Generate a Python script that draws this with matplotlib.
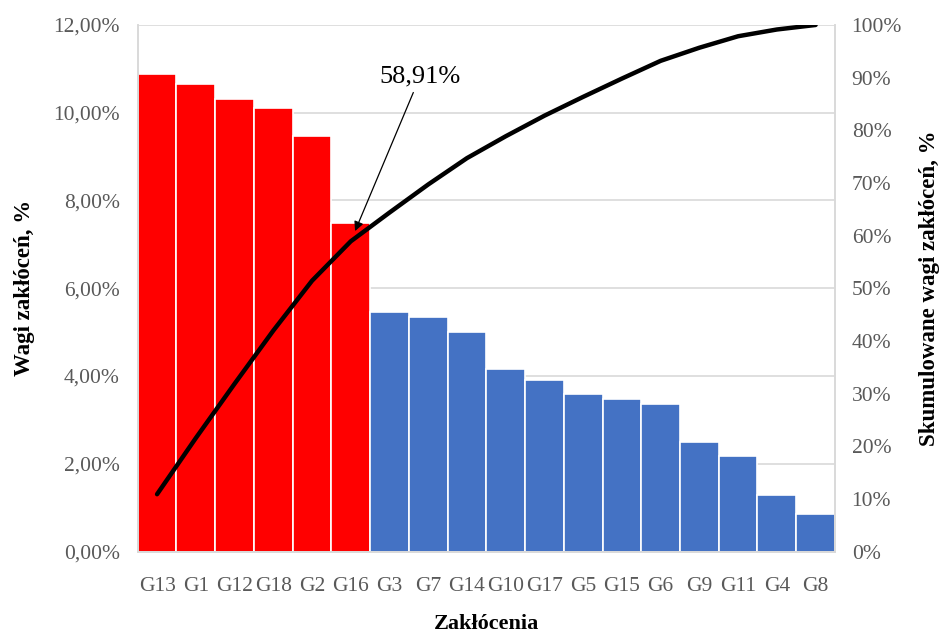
import matplotlib.pyplot as plt
import numpy as np
from matplotlib.ticker import FuncFormatter

categories = ['G13', 'G1', 'G12', 'G18', 'G2', 'G16', 'G3', 'G7', 'G14',
              'G10', 'G17', 'G5', 'G15', 'G6', 'G9', 'G11', 'G4', 'G8']
weights = [10.88, 10.66, 10.31, 10.10, 9.47, 7.49, 5.46, 5.34, 5.00,
           4.15, 3.91, 3.58, 3.47, 3.37, 2.49, 2.18, 1.28, 0.86]
n_critical = 6  # first groups making up the 58,91%

plt.rcParams['font.family'] = ['Liberation Serif', 'DejaVu Serif']

grey_text = '#595959'
grid_col = '#d9d9d9'

x = np.arange(len(categories))
cumulative = np.cumsum(weights) / np.sum(weights) * 100
colors = ['#ff0000' if i < n_critical else '#4472c4' for i in range(len(categories))]

fig = plt.figure(figsize=(9.47, 6.37), dpi=100)
ax1 = fig.add_axes([0.1454, 0.1342, 0.7363, 0.8266])
ax2 = ax1.twinx()

ax1.bar(x, weights, width=1.0, color=colors, edgecolor='white', linewidth=1.2, zorder=2)
ax1.set_xlim(-0.5, len(categories) - 0.5)
ax1.set_ylim(0, 12)
ax1.set_yticks(np.arange(0, 12.01, 2))
ax1.yaxis.set_major_formatter(FuncFormatter(lambda v, p: f"{v:.2f}%".replace('.', ',')))
ax1.set_xticks(x)
ax1.set_xticklabels(categories)
ax1.grid(axis='y', color=grid_col, linewidth=1.2, zorder=0)
ax1.set_axisbelow(True)

ax2.plot(x, cumulative, color='black', linewidth=3.2, solid_capstyle='round', zorder=3)
ax2.set_ylim(0, 100)
ax2.set_yticks(np.arange(0, 101, 10))
ax2.yaxis.set_major_formatter(FuncFormatter(lambda v, p: f"{v:.0f}%"))

for ax in (ax1, ax2):
    for side in ax.spines:
        ax.spines[side].set_color(grid_col)
        ax.spines[side].set_linewidth(1.2)
    ax.spines['top'].set_visible(False)
    ax.tick_params(length=0, labelsize=15.5, labelcolor=grey_text)

ax1.tick_params(axis='y', pad=13)
ax2.tick_params(axis='y', pad=12)
ax1.tick_params(axis='x', pad=18)

ax1.set_ylabel('Wagi zakłóceń, %', fontsize=16.5, fontweight='bold', labelpad=13)
ax2.set_ylabel('Skumulowane wagi zakłóceń, %', fontsize=16.5, fontweight='bold', labelpad=12)
ax1.set_xlabel('Zakłócenia', fontsize=16, fontweight='bold', labelpad=13)

ax2.annotate(f"{cumulative[n_critical - 1]:.2f}%".replace('.', ','),
             xy=(x[n_critical - 1], cumulative[n_critical - 1]),
             xytext=(50, 111), textcoords='offset points',
             ha='center', va='bottom', fontsize=19,
             arrowprops=dict(arrowstyle='-|>', color='black', lw=0.9,
                             mutation_scale=14, shrinkA=2, shrinkB=8))

fig.savefig('out.png', dpi=100)
